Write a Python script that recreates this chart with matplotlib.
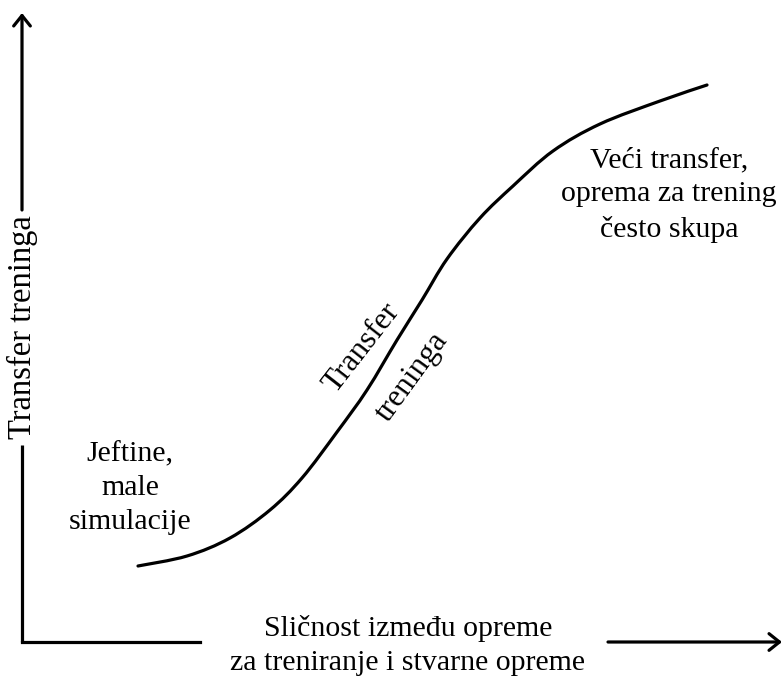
import matplotlib
matplotlib.use("Agg")
import matplotlib.pyplot as plt
from matplotlib.path import Path
from matplotlib.patches import PathPatch

# curve, in image pixels (x right, y down)
curve_x = [138, 187, 230, 270, 302, 337, 367, 397, 422, 447, 480, 513, 553,
           600, 660, 707]
curve_y = [566, 556, 538, 510, 478, 432, 390, 340, 300, 259, 218, 186, 151,
           124, 101, 85]

x_label = "Sličnost između opreme\nza treniranje i stvarne opreme"
y_label = "Transfer treninga"
low_note = "Jeftine,\nmale\nsimulacije"
high_note = "Veći transfer,\noprema za trening\nčesto skupa"
curve_words = ["Transfer", "treninga"]

W, H = 784, 677
LW = 2.3
FONT = "Liberation Serif"

fig = plt.figure(figsize=(W / 100, H / 100), dpi=100, facecolor="white")
ax = fig.add_axes([0, 0, 1, 1])
ax.set_xlim(0, W)
ax.set_ylim(H, 0)
ax.axis("off")

# axes drawn by hand, broken where the labels sit
ox, oy = 22, 642
ax.plot([ox, ox], [oy, 445], color="black", lw=LW, solid_capstyle="butt")
ax.plot([ox, 200], [oy, oy], color="black", lw=LW, solid_capstyle="projecting")
arrow = dict(arrowstyle="->,head_length=0.75,head_width=0.6", lw=LW,
             color="black", shrinkA=0, shrinkB=0, mutation_scale=10)
ax.annotate("", xy=(ox, 13), xytext=(ox, 210), arrowprops=arrow)
ax.annotate("", xy=(782, oy), xytext=(608, oy), arrowprops=arrow)


def smooth_path(xs, ys):
    # catmull-rom through the traced points, drawn as cubic beziers
    pts = list(zip(xs, ys))
    verts = [pts[0]]
    codes = [Path.MOVETO]
    for i in range(len(pts) - 1):
        p0 = pts[max(i - 1, 0)]
        p1 = pts[i]
        p2 = pts[i + 1]
        p3 = pts[min(i + 2, len(pts) - 1)]
        c1 = (p1[0] + (p2[0] - p0[0]) / 6, p1[1] + (p2[1] - p0[1]) / 6)
        c2 = (p2[0] - (p3[0] - p1[0]) / 6, p2[1] - (p3[1] - p1[1]) / 6)
        verts += [c1, c2, p2]
        codes += [Path.CURVE4] * 3
    return Path(verts, codes)


ax.add_patch(PathPatch(smooth_path(curve_x, curve_y), facecolor="none",
                       edgecolor="black", lw=LW, capstyle="round"))

fs = 21.5
ls = 1.4
ax.text(408, 646, x_label, fontsize=fs, family=FONT, ha="center",
        va="center", linespacing=ls)
ax.text(22, 327, y_label, fontsize=23.5, family=FONT, ha="center",
        va="center", rotation=90)
ax.text(130, 488, low_note, fontsize=fs, family=FONT, ha="center",
        va="center", linespacing=ls)
ax.text(669, 195, high_note, fontsize=fs, family=FONT, ha="center",
        va="center", linespacing=ls)
ax.text(362, 348, curve_words[0], fontsize=22.5, family=FONT, ha="center",
        va="center", rotation=52)
ax.text(412, 377, curve_words[1], fontsize=22.5, family=FONT, ha="center",
        va="center", rotation=54)

fig.savefig("out.png", dpi=100, facecolor="white")
